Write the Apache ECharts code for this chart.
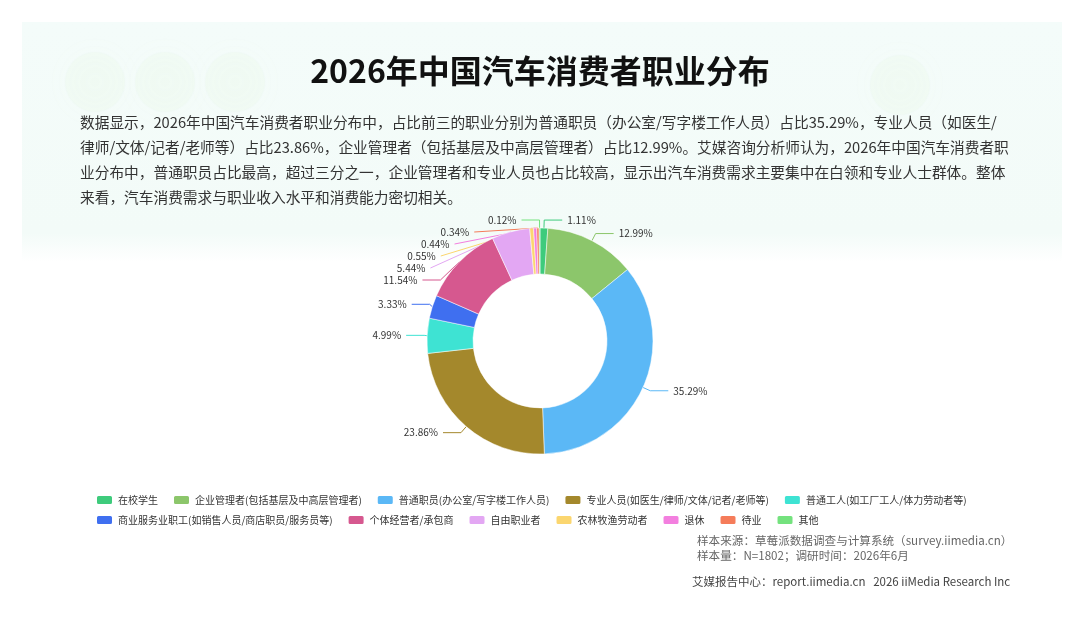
<!DOCTYPE html>
<html>
<head>
<meta charset="utf-8">
<title>2026年中国汽车消费者职业分布</title>
<script src="https://cdn.jsdelivr.net/npm/echarts@6/dist/echarts.min.js"></script>
<style>
  html, body { margin: 0; padding: 0; background: #fff; }
  #chart { width: 1080px; height: 623px; }
</style>
</head>
<body>
<div id="chart"></div>
<script>
// 职业类别
var categories = [
  '在校学生',
  '企业管理者(包括基层及中高层管理者)',
  '普通职员(办公室/写字楼工作人员)',
  '专业人员(如医生/律师/文体/记者/老师等)',
  '普通工人(如工厂工人/体力劳动者等)',
  '商业服务业职工(如销售人员/商店职员/服务员等)',
  '个体经营者/承包商',
  '自由职业者',
  '农林牧渔劳动者',
  '退休',
  '待业',
  '其他'
];
// 占比 %
var shares = [1.11, 12.99, 35.29, 23.86, 4.99, 3.33, 11.54, 5.44, 0.55, 0.44, 0.34, 0.12];
var colors = ['#3ecb7c', '#8cc66b', '#5bb8f6', '#a4882c', '#3ee3d3', '#3f6ff0',
              '#d6588f', '#e3a7f3', '#fbd66f', '#f37fdf', '#f57c5a', '#74e27e'];

var titleText = '2026年中国汽车消费者职业分布';
var descLines = [
  '数据显示，2026年中国汽车消费者职业分布中，占比前三的职业分别为普通职员（办公室/写字楼工作人员）占比35.29%，专业人员（如医生/',
  '律师/文体/记者/老师等）占比23.86%，企业管理者（包括基层及中高层管理者）占比12.99%。艾媒咨询分析师认为，2026年中国汽车消费者职',
  '业分布中，普通职员占比最高，超过三分之一，企业管理者和专业人员也占比较高，显示出汽车消费需求主要集中在白领和专业人士群体。整体',
  '来看，汽车消费需求与职业收入水平和消费能力密切相关。'
];
var sourceLines = [
  '样本来源：草莓派数据调查与计算系统（survey.iimedia.cn）',
  '样本量：N=1802；调研时间：2026年6月'
];
var footer = '艾媒报告中心：report.iimedia.cn   2026 iiMedia Research Inc';

var pieData = [];
for (var i = 0; i < categories.length; i++) {
  pieData.push({ name: categories[i], value: shares[i] });
}

var font = '"Noto Sans CJK SC", "Noto Sans", sans-serif';
var chart = echarts.init(document.getElementById('chart'));

// 图例分两行
var legendBase = {
  left: 90,
  itemWidth: 17,
  itemHeight: 10,
  itemGap: 14,
  icon: 'roundRect',
  textStyle: { fontSize: 10, color: '#333', fontFamily: font }
};

var blob = function (cx, cy) {
  return {
    type: 'circle', z: -9, silent: true,
    shape: { cx: cx, cy: cy, r: 30 },
    style: { fill: 'rgba(215,242,210,0.1)', shadowBlur: 30, shadowColor: 'rgba(215,242,210,0.3)' }
  };
};

var option = {
  backgroundColor: '#ffffff',
  color: colors,
  graphic: [
    // 浅绿色背景块
    {
      type: 'rect', z: -10, silent: true,
      shape: { x: 22, y: 22, width: 1040, height: 240 },
      style: {
        fill: new echarts.graphic.LinearGradient(0, 0, 0, 1, [
          { offset: 0, color: '#f4fcfa' },
          { offset: 0.88, color: '#f3fbf8' },
          { offset: 1, color: 'rgba(243,251,248,0)' }
        ])
      }
    },
    blob(95, 82), blob(165, 82), blob(235, 82), blob(900, 85),
    {
      type: 'text', left: 'center', top: 55,
      style: { text: titleText, font: 'bold 32px ' + font, fill: '#111' }
    },
    {
      type: 'text', left: 80, top: 110,
      style: { text: descLines.join('\n'), font: '14.7px ' + font, fill: '#333', lineHeight: 25 }
    },
    {
      type: 'text', left: 697, top: 533,
      style: { text: sourceLines.join('\n'), font: '11.6px ' + font, fill: '#666', lineHeight: 15 }
    },
    {
      type: 'text', left: 692, top: 576,
      style: { text: footer, font: '11.5px ' + font, fill: '#444' }
    }
  ],
  legend: [
    Object.assign({ top: 489, data: categories.slice(0, 5) }, legendBase),
    Object.assign({ top: 509, data: categories.slice(5) }, legendBase)
  ],
  series: [{
    type: 'pie',
    center: [540, 341],
    radius: [67, 113],
    startAngle: 90,
    data: pieData,
    label: {
      formatter: '{c}%',
      fontSize: 10,
      color: '#333',
      fontFamily: font
    },
    labelLine: { length: 8, length2: 18 },
    itemStyle: { borderColor: '#fff', borderWidth: 0.5 }
  }]
};
chart.setOption(option);
</script>
</body>
</html>
